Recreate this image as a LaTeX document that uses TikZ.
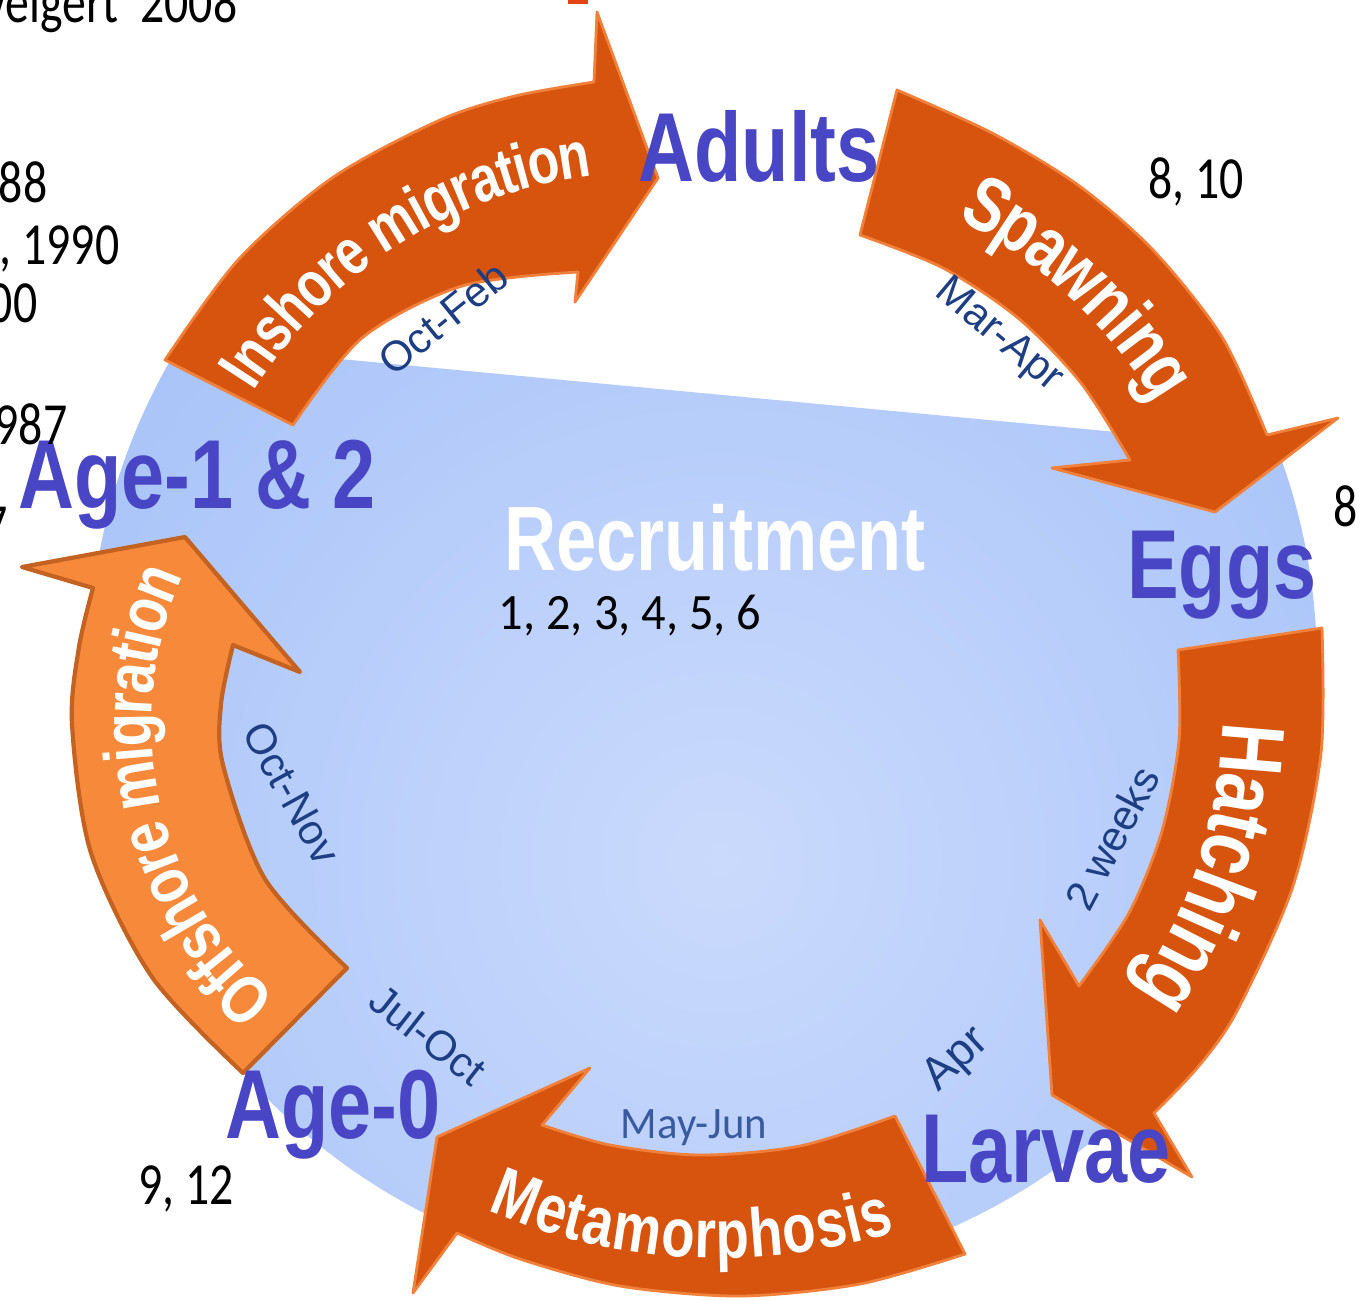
\documentclass[tikz,border=0pt]{standalone}
\usepackage{fontspec}
\setmainfont{Liberation Sans}
\newfontfamily\stagefont{Liberation Sans}[FakeStretch=0.79]
\newfontfamily\numfont{Carlito}[FakeStretch=0.8]
\newfontfamily\recfont{Carlito}[FakeStretch=0.95]
\usetikzlibrary{decorations.text}
\definecolor{bluerim}{RGB}{146,180,247}
\definecolor{bluemid}{RGB}{202,218,252}
\definecolor{rustfill}{RGB}{214,84,14}
\definecolor{rustedge}{RGB}{240,128,58}
\definecolor{ambfill}{RGB}{247,137,58}
\definecolor{ambedge}{RGB}{196,98,34}
\definecolor{stageblue}{RGB}{72,70,196}
\definecolor{monthblue}{RGB}{30,62,132}
\definecolor{junblue}{RGB}{58,90,160}
\definecolor{tipred}{RGB}{226,68,20}

\begin{document}
\begin{tikzpicture}[x=0.1mm, y=-0.1mm,
    stage/.style={font=\stagefont\bfseries\fontsize{27.9}{30}\selectfont, text=stageblue, inner sep=0pt, anchor=base},
    month/.style={font=\fontsize{12}{14}\selectfont, text=monthblue, inner sep=0pt},
    refnum/.style={font=\numfont\fontsize{17}{19}\selectfont, inner sep=0pt},
    rustarrow/.style={fill=rustfill, draw=rustedge, line width=0.8pt, line join=round},
    amberarrow/.style={fill=ambfill, draw=ambedge, line width=1.2pt, line join=round},
    along/.style={decorate, decoration={text along path, text align=center, raise=#1}}]
  \useasboundingbox (0,0) rectangle (1361,1300);

  % recruitment disc
  \begin{scope}
    \clip (703,666) circle[radius=61.4mm];
    \clip (0,327) -- (1361,455) -- (1361,1300) -- (0,1300) -- cycle;
    \shade[inner color=bluemid, outer color=bluerim] (720,860) circle[radius=130mm];
  \end{scope}
  \fill[tipred] (568,0) rectangle (588,4);

  % stage arrows
  \filldraw[rustarrow] plot[smooth] coordinates {(165,360) (238,260) (332,178) (440,120) (515,96) (594,82)}
    -- (597,12) -- (658,178) -- (575,302)
    -- plot[smooth] coordinates {(578,272) (462,286) (362,338) (293,425)} -- cycle;
  \filldraw[rustarrow] plot[smooth] coordinates {(897,90) (992,133) (1078,185) (1153,250) (1222,337) (1267,435)}
    -- (1338,418) -- (1215,512) -- (1052,468)
    -- plot[smooth] coordinates {(1130,460) (1081,383) (1018,318) (943,268) (860,235)} -- cycle;
  \filldraw[rustarrow] plot[smooth] coordinates {(1322,628) (1321,753) (1293,886) (1237,1011) (1198,1067) (1154,1113)}
    -- (1192,1177) -- (1052,1095) -- (1040,920)
    -- plot[smooth] coordinates {(1079,986) (1129,913) (1162,831) (1179,740) (1178,650)} -- cycle;
  \filldraw[rustarrow] plot[smooth] coordinates {(965,1254) (860,1284) (740,1296) (620,1286) (520,1259) (457,1233)}
    -- (413,1293) -- (437,1137) -- (590,1068)
    -- plot[smooth] coordinates {(542,1125) (610,1145) (700,1155) (800,1146) (895,1116)} -- cycle;
  \filldraw[amberarrow] plot[smooth] coordinates {(243,1073) (152,977) (91,853) (72,724) (79,647) (93,588)}
    -- (22,567) -- (185,537) -- (300,672)
    -- plot[smooth] coordinates {(233,645) (221,704) (223,765) (265,879) (347,968)} -- cycle;

  \path[along=-2.2mm, decoration={text={|\stagefont\bfseries\fontsize{18.5}{20}\selectfont\color{white}|Inshore migration}}]
    (226,395) .. controls (306,257) and (448,166) .. (607,152);
  \path[along=-2.7mm, decoration={text={|\stagefont\bfseries\fontsize{22}{25}\selectfont\color{white}|Spawning}}]
    (898,165) .. controls (1041,212) and (1156,319) .. (1213,459);
  \path[along=-3.2mm, decoration={text={|\stagefont\bfseries\fontsize{25.5}{28}\selectfont\color{white}|Hatching}}]
    (1245,598) .. controls (1281,786) and (1219,980) .. (1077,1103);
  \path[along=-2.35mm, decoration={text={|\stagefont\bfseries\fontsize{19.6}{22}\selectfont\color{white}|Metamorphosis}}]
    (429,1154) .. controls (590,1251) and (789,1261) .. (959,1182);
  \path[along=-2.35mm, decoration={text={|\stagefont\bfseries\fontsize{19.6}{22}\selectfont\color{white}|Offshore migration}}]
    (321,1057) .. controls (125,944) and (68,688) .. (198,503);

  % stages
  \node[stage] (adults) at (759,181) {Adults};
  \node[stage] (eggs) at (1222,598) {Eggs};
  \node[stage] (larvae) at (1046,1182) {Larvae};
  \node[stage] (agezero) at (333,1138) {Age-0};
  \node[stage] (ageonetwo) at (197,508) {Age-1 \& 2};
  \node[font=\stagefont\bfseries\fontsize{26}{28}\selectfont, text=white, inner sep=0pt, anchor=base] (recruit) at (715,570) {Recruitment};
  \node[font=\recfont\fontsize{14.5}{16}\selectfont, inner sep=0pt, anchor=base] (recnums) at (630,629) {1, 2, 3, 4, 5, 6};

  % timing
  \node[month, rotate=39] (octfeb) at (443,318) {Oct-Feb};
  \node[month, rotate=-40] (marapr) at (998,336) {Mar-Apr};
  \node[month, rotate=62] (twoweeks) at (1112,838) {2 weeks};
  \node[month, rotate=43, font=\fontsize{13}{15}\selectfont] (apr) at (957,1060) {Apr};
  \node[month, font=\recfont\fontsize{12.8}{14}\selectfont, text=junblue] (mayjun) at (694,1128) {May-Jun};
  \node[month, rotate=-38] (juloct) at (428,1035) {Jul-Oct};
  \node[month, rotate=-61] (octnov) at (292,793) {Oct-Nov};

  % sources
  \node[refnum, anchor=base east] (refa) at (238,22) {veigert\ \ 2008};
  \node[refnum, anchor=base east] (refb) at (48,202) {88};
  \node[refnum, anchor=base east] (refc) at (120,264) {, 1990};
  \node[refnum, anchor=base east] (refd) at (38,322) {00};
  \node[refnum, anchor=base east] (refe) at (68,444) {987};
  \node[refnum, anchor=base east] (reff) at (8,545) {7};
  \node[refnum, anchor=base] (refg) at (1196,198) {8, 10};
  \node[refnum, anchor=base west] (refh) at (1333,526) {8};
  \node[refnum, anchor=base] (refi) at (186,1204) {9, 12};
\end{tikzpicture}
\end{document}
